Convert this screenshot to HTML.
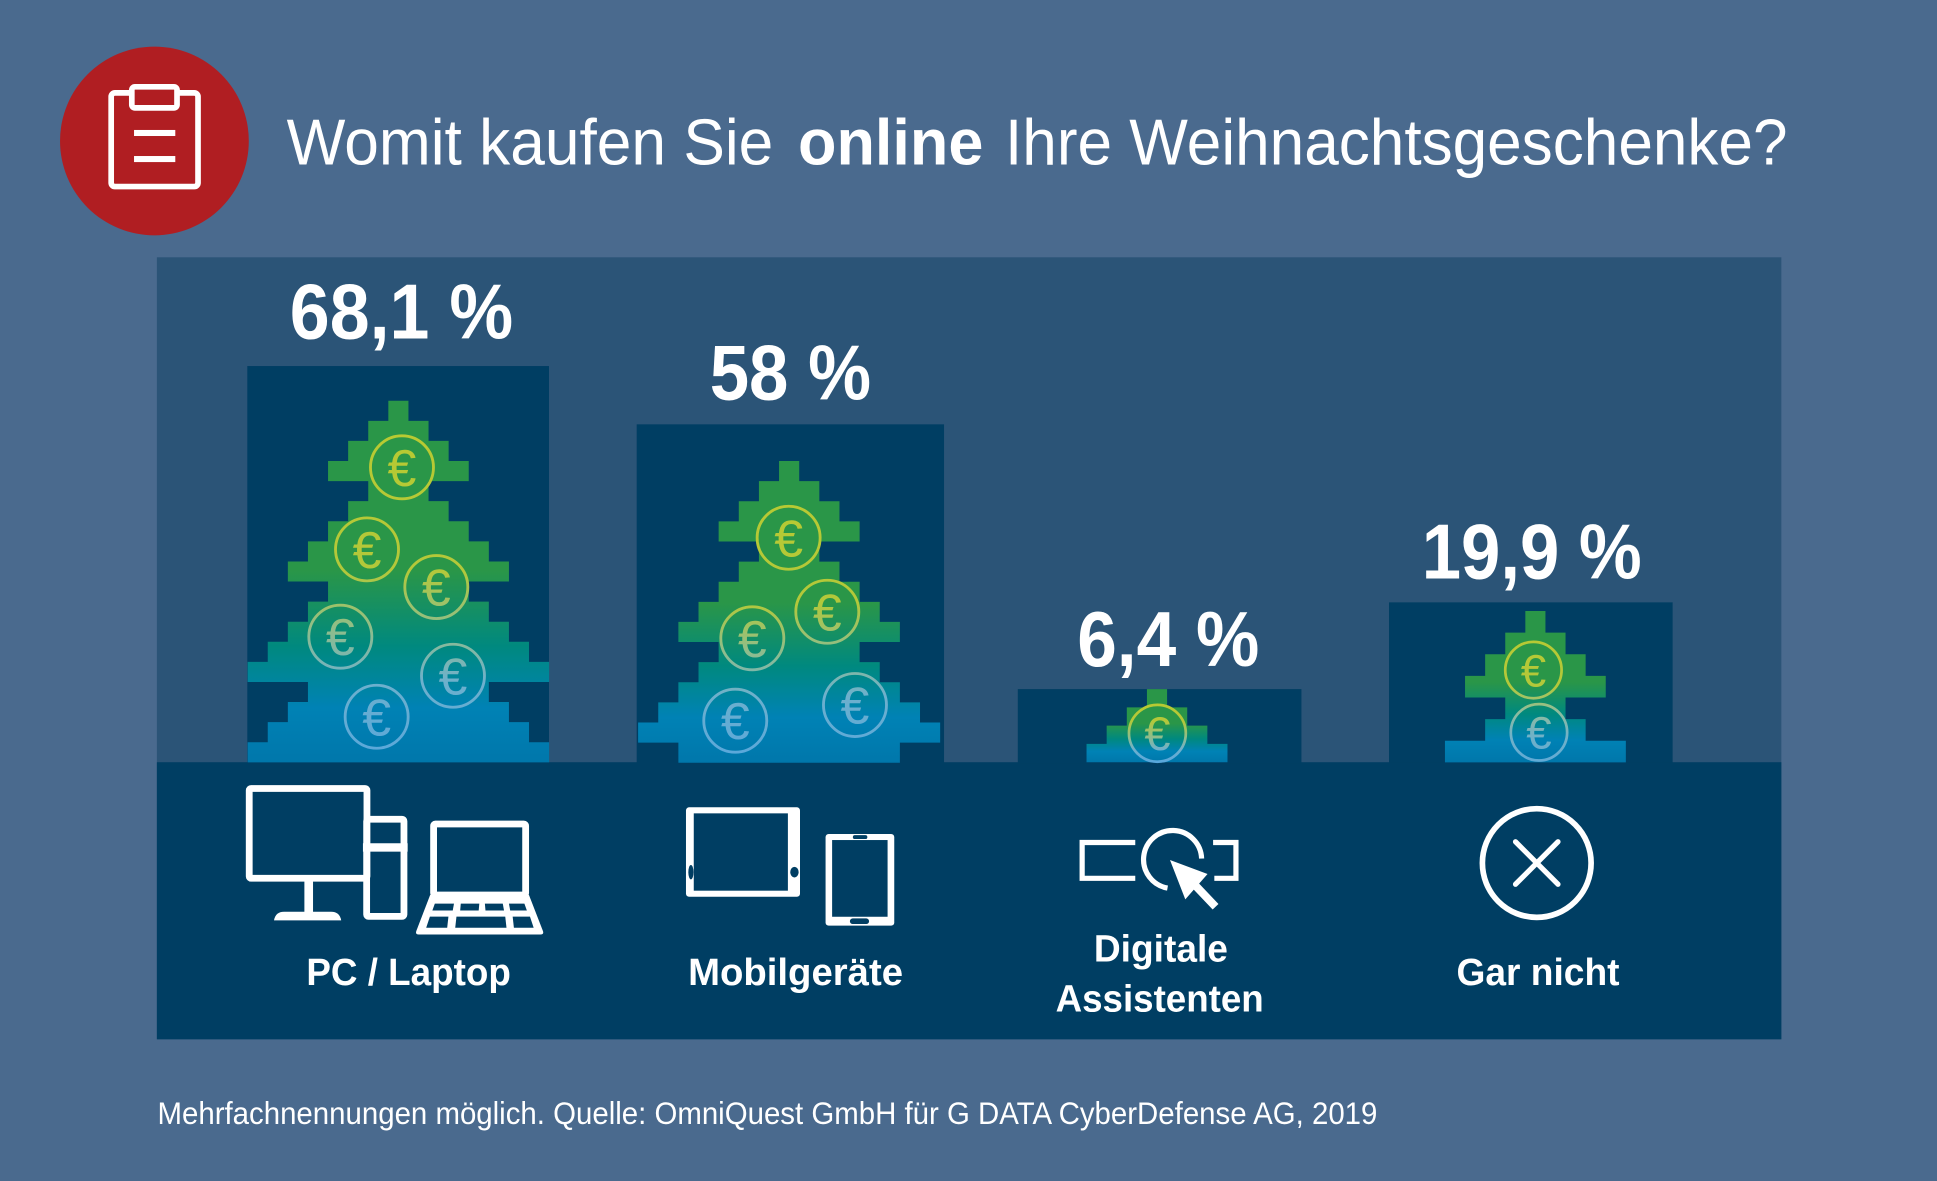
<!DOCTYPE html>
<html>
<head>
<meta charset="utf-8">
<style>
html,body{margin:0;padding:0;background:#4a6a8e;}
svg{display:block;}
text{font-family:"Liberation Sans",sans-serif;fill:#fff;}
</style>
</head>
<body>
<svg width="1937" height="1181" viewBox="0 0 1568 956" preserveAspectRatio="none" xmlns="http://www.w3.org/2000/svg">
<defs>
  <linearGradient id="tree" x1="0" y1="0" x2="0" y2="1">
    <stop offset="0" stop-color="#2a9648"/>
    <stop offset="0.47" stop-color="#2a9648"/>
    <stop offset="0.68" stop-color="#00897f"/>
    <stop offset="0.85" stop-color="#0082b5"/>
    <stop offset="1" stop-color="#0077ab"/>
  </linearGradient>
  <linearGradient id="c1" gradientUnits="userSpaceOnUse" x1="0" y1="324.4" x2="0" y2="617">
    <stop offset="0" stop-color="#b9ca30"/><stop offset="0.47" stop-color="#b3c83a"/>
    <stop offset="0.63" stop-color="#8fbd8a"/><stop offset="0.78" stop-color="#6db0cd"/>
    <stop offset="1" stop-color="#58a7dc"/>
  </linearGradient>
  <linearGradient id="c2" gradientUnits="userSpaceOnUse" x1="0" y1="373.2" x2="0" y2="617">
    <stop offset="0" stop-color="#b9ca30"/><stop offset="0.47" stop-color="#b3c83a"/>
    <stop offset="0.63" stop-color="#8fbd8a"/><stop offset="0.78" stop-color="#6db0cd"/>
    <stop offset="1" stop-color="#58a7dc"/>
  </linearGradient>
  <linearGradient id="c3" gradientUnits="userSpaceOnUse" x1="0" y1="566" x2="0" y2="617">
    <stop offset="0" stop-color="#b9ca30"/><stop offset="0.35" stop-color="#b3c83a"/>
    <stop offset="0.6" stop-color="#8fbd8a"/><stop offset="0.8" stop-color="#6db0cd"/>
    <stop offset="1" stop-color="#58a7dc"/>
  </linearGradient>
  <linearGradient id="c4" gradientUnits="userSpaceOnUse" x1="0" y1="494.6" x2="0" y2="617">
    <stop offset="0" stop-color="#b9ca30"/><stop offset="0.5" stop-color="#b3c83a"/>
    <stop offset="0.66" stop-color="#8fbd9a"/><stop offset="0.82" stop-color="#72b2c6"/>
    <stop offset="1" stop-color="#60aad6"/>
  </linearGradient>
</defs>

<!-- background -->
<rect x="0" y="0" width="1568" height="956" fill="#4a6a8e"/>

<!-- header icon -->
<circle cx="125" cy="114.1" r="76.4" fill="#b01e22"/>
<rect x="90" y="75.2" width="70.3" height="75.8" rx="3" fill="none" stroke="#fff" stroke-width="4.6"/>
<rect x="106.7" y="70.3" width="36.6" height="17" rx="2.5" fill="#b01e22" stroke="#fff" stroke-width="4.6"/>
<rect x="108.5" y="105.2" width="33.4" height="4.9" fill="#fff"/>
<rect x="108.5" y="126.3" width="33.4" height="4.9" fill="#fff"/>

<!-- title -->
<text x="232" y="133" font-size="52.5" textLength="394" lengthAdjust="spacingAndGlyphs">Womit kaufen Sie</text>
<text x="646" y="133" font-size="52.5" font-weight="bold" textLength="150" lengthAdjust="spacingAndGlyphs">online</text>
<text x="813.6" y="133" font-size="52.5" textLength="633.4" lengthAdjust="spacingAndGlyphs">Ihre Weihnachtsgeschenke?</text>

<!-- panel -->
<rect x="127" y="208.3" width="1315" height="633" fill="#2b5477"/>
<rect x="127" y="617" width="1315" height="224.3" fill="#003e63"/>

<!-- bars -->
<rect x="200.2" y="296.3" width="244.2" height="321" fill="#003e63"/>
<rect x="515.4" y="343.5" width="248.8" height="274" fill="#003e63"/>
<rect x="823.9" y="557.8" width="229.6" height="60" fill="#003e63"/>
<rect x="1124.4" y="487.6" width="229.6" height="130" fill="#003e63"/>

<!-- trees -->
<g transform="translate(322.5,324.4) scale(16.27,16.26)">
<path fill="url(#tree)" d="M-0.5 0h1v1h-1z M-1.5 1h3v1h-3z M-2.5 2h5v1h-5z M-3.5 3h7v1h-7z M-1.5 4h3v1h-3z M-2.5 5h5v1h-5z M-3.5 6h7v1h-7z M-4.5 7h9v1h-9z M-5.5 8h11v1h-11z M-3.5 9h7v1h-7z M-4.5 10h9v1h-9z M-5.5 11h11v1h-11z M-6.5 12h13v1h-13z M-7.5 13h15v1h-15z M-4.5 14h9v1h-9z M-5.5 15h11v1h-11z M-6.5 16h13v1h-13z M-7.5 17h15v1h-15z"/>
</g>
<g transform="translate(638.8,373.2) scale(16.3,16.28)">
<path fill="url(#tree)" d="M-0.5 0h1v1h-1z M-1.5 1h3v1h-3z M-2.5 2h5v1h-5z M-3.5 3h7v1h-7z M-1.5 4h3v1h-3z M-2.5 5h5v1h-5z M-3.5 6h7v1h-7z M-4.5 7h9v1h-9z M-5.5 8h11v1h-11z M-3.5 9h7v1h-7z M-4.5 10h9v1h-9z M-5.5 11h11v1h-11z M-6.5 12h13v1h-13z M-7.5 13h15v1h-15z M-5.5 14h11v1h-11z"/>
</g>
<g transform="translate(936.6,557.8) scale(16.3,14.8)">
<path fill="url(#tree)" d="M-0.5 0h1v1h-1z M-1.5 1h3v1h-3z M-2.5 2h5v1h-5z M-3.5 3h7v1h-7z"/>
</g>
<g transform="translate(1242.9,494.6) scale(16.27,17.5)">
<path fill="url(#tree)" d="M-0.5 0h1v1h-1z M-1.5 1h3v1h-3z M-2.5 2h5v1h-5z M-3.5 3h7v1h-7z M-1.5 4h3v1h-3z M-2.5 5h5v1h-5z M-4.5 6h9v1h-9z"/>
</g>

<!-- coins bar 1 -->
<g fill="none" stroke="url(#c1)" stroke-width="2.3">
<circle cx="325.4" cy="378.3" r="25.5"/>
<circle cx="297.1" cy="444.7" r="25.5"/>
<circle cx="353.2" cy="475.2" r="25.5"/>
<circle cx="275.5" cy="515.4" r="25.5"/>
<circle cx="366.7" cy="547" r="25.5"/>
<circle cx="304.9" cy="580.2" r="25.5"/>
</g>
<g font-size="42" text-anchor="middle" style="fill:url(#c1)">
<text x="325.4" y="393.3" style="fill:url(#c1)">€</text>
<text x="297.1" y="459.7" style="fill:url(#c1)">€</text>
<text x="353.2" y="490.2" style="fill:url(#c1)">€</text>
<text x="275.5" y="530.4" style="fill:url(#c1)">€</text>
<text x="366.7" y="562" style="fill:url(#c1)">€</text>
<text x="304.9" y="595.2" style="fill:url(#c1)">€</text>
</g>

<!-- coins bar 2 -->
<g fill="none" stroke="url(#c2)" stroke-width="2.3">
<circle cx="638.4" cy="435.3" r="25.5"/>
<circle cx="669.7" cy="495.2" r="25.5"/>
<circle cx="609" cy="516.7" r="25.5"/>
<circle cx="595.2" cy="583.4" r="25.5"/>
<circle cx="692.1" cy="570.7" r="25.5"/>
</g>
<g font-size="42" text-anchor="middle">
<text x="638.4" y="450.3" style="fill:url(#c2)">€</text>
<text x="669.7" y="510.2" style="fill:url(#c2)">€</text>
<text x="609" y="531.7" style="fill:url(#c2)">€</text>
<text x="595.2" y="598.4" style="fill:url(#c2)">€</text>
<text x="692.1" y="585.7" style="fill:url(#c2)">€</text>
</g>

<!-- coin bar 3 -->
<circle cx="936.9" cy="593.6" r="23" fill="none" stroke="url(#c3)" stroke-width="2.2"/>
<text x="936.9" y="607" font-size="38" text-anchor="middle" style="fill:url(#c3)">€</text>

<!-- coins bar 4 -->
<g fill="none" stroke="url(#c4)" stroke-width="2.2">
<circle cx="1241.3" cy="542.4" r="22.8"/>
<circle cx="1245.8" cy="592.8" r="22.8"/>
</g>
<g font-size="37" text-anchor="middle">
<text x="1241.3" y="555.6" style="fill:url(#c4)">€</text>
<text x="1245.8" y="606" style="fill:url(#c4)">€</text>
</g>

<!-- percentage labels -->
<g font-size="63" font-weight="bold">
<text x="234.6" y="274" textLength="180.8" lengthAdjust="spacingAndGlyphs">68,1 %</text>
<text x="574.5" y="323.3" textLength="130.6" lengthAdjust="spacingAndGlyphs">58 %</text>
<text x="872" y="539.1" textLength="147.4" lengthAdjust="spacingAndGlyphs">6,4 %</text>
<text x="1150.9" y="468.2" textLength="178.1" lengthAdjust="spacingAndGlyphs">19,9 %</text>
</g>

<!-- PC / Laptop icon -->
<g fill="none" stroke="#fff" stroke-width="5.5">
<rect x="201.75" y="638.25" width="95.3" height="72.7" rx="1.5"/>
<rect x="296.8" y="663.2" width="30.2" height="78.6" rx="1.5"/>
<rect x="351" y="667" width="74.5" height="57.5" rx="1.5"/>
</g>
<rect x="246.4" y="712" width="7" height="28" fill="#fff"/>
<path d="M221.8 745 Q223 738 230 738 H268 Q275 738 276.2 745 Z" fill="#fff"/>
<rect x="293.8" y="682.6" width="36.2" height="6.8" fill="#fff"/>
<path d="M348.2 724.5 H428.2 L439.5 753.6 Q440.5 756.5 437.5 756.5 H339 Q336 756.5 337 753.6 Z" fill="#fff"/>
<g fill="#003e63">
<polygon points="352,731.5 367.5,731.5 366.5,737 350,737"/>
<polygon points="373,731.5 388,731.5 387.5,737 372.5,737"/>
<polygon points="392.5,731.5 407,731.5 408,737 393,737"/>
<polygon points="412,731.5 424.5,731.5 426.5,737 413,737"/>
<polygon points="348,742 363,742 362,751 345,751"/>
<polygon points="369.5,742 409,742 410,751 368.5,751"/>
<polygon points="415,742 429,742 432,751 416,751"/>
</g>

<!-- Mobile icon -->
<rect x="555.3" y="653.5" width="92.3" height="72.4" rx="2.5" fill="#fff"/>
<rect x="561.6" y="658.4" width="76.2" height="62.6" fill="#003e63"/>
<ellipse cx="559.3" cy="706" rx="2.1" ry="5.8" fill="#003e63"/>
<ellipse cx="643.1" cy="706" rx="3.4" ry="4.3" fill="#003e63"/>
<rect x="668.3" y="675.1" width="55.6" height="74.2" rx="2.5" fill="#fff"/>
<rect x="673.6" y="680" width="44.9" height="62.1" fill="#003e63"/>
<rect x="690.4" y="676" width="11.7" height="3.2" rx="1.6" fill="#003e63"/>
<rect x="688" y="743.4" width="15.5" height="4.6" rx="2.3" fill="#003e63"/>

<!-- Digital assistant icon -->
<g fill="none" stroke="#fff" stroke-width="4.2">
<path d="M919 682 H876 V711 H919"/>
<path d="M982 682 H1000.5 V711 H983"/>
<path d="M945.1 718.9 A23.5 23.5 0 1 1 972.7 695"/>
</g>
<polygon points="947.1,696.2 977.5,707.5 959.5,728" fill="#fff"/>
<line x1="965" y1="714" x2="984" y2="734" stroke="#fff" stroke-width="6.5"/>

<!-- Gar nicht icon -->
<circle cx="1244" cy="698.6" r="44" fill="none" stroke="#fff" stroke-width="4.6"/>
<g stroke="#fff" stroke-width="4.2" stroke-linecap="round">
<line x1="1226.8" y1="681.4" x2="1261.2" y2="715.8"/>
<line x1="1261.2" y1="681.4" x2="1226.8" y2="715.8"/>
</g>

<!-- category labels -->
<g font-size="30.5" font-weight="bold">
<text x="248" y="797.5" textLength="165.5" lengthAdjust="spacingAndGlyphs">PC / Laptop</text>
<text x="557" y="797.5" textLength="174" lengthAdjust="spacingAndGlyphs">Mobilgeräte</text>
<text x="885.5" y="778.5" textLength="108.5" lengthAdjust="spacingAndGlyphs">Digitale</text>
<text x="854.5" y="819" textLength="168.5" lengthAdjust="spacingAndGlyphs">Assistenten</text>
<text x="1179" y="797.5" textLength="132" lengthAdjust="spacingAndGlyphs">Gar nicht</text>
</g>

<!-- footer -->
<text x="127.5" y="910" font-size="25.5" textLength="987.5" lengthAdjust="spacingAndGlyphs">Mehrfachnennungen möglich. Quelle: OmniQuest GmbH für G DATA CyberDefense AG, 2019</text>
</svg>
</body>
</html>
